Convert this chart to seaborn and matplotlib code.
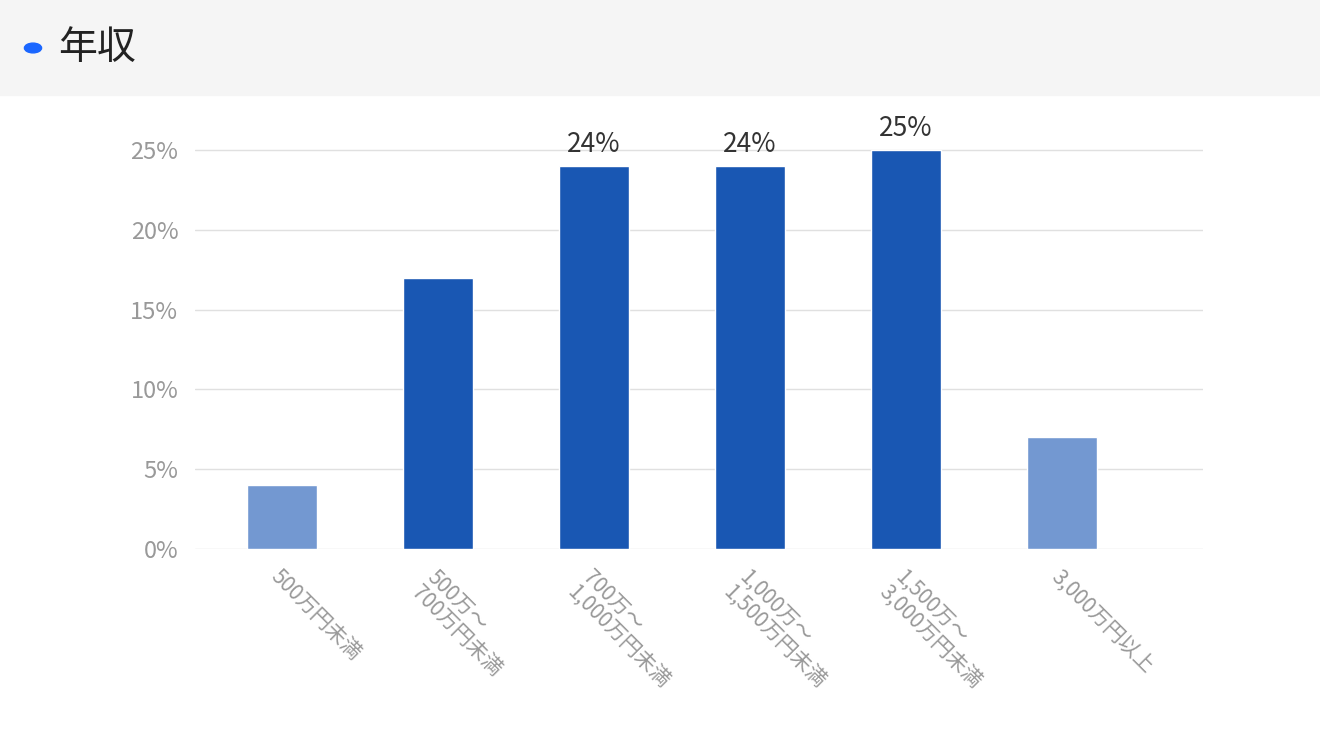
import matplotlib
matplotlib.use("Agg")
import matplotlib.pyplot as plt
import seaborn as sns
import pandas as pd
from matplotlib.patches import Rectangle

sns.set_style("white")
plt.rcParams['font.family'] = ['Noto Sans CJK JP', 'DejaVu Sans']

# data
categories = ["500万円未満", "500万〜\n700万円未満", "700万〜\n1,000万円未満",
              "1,000万〜\n1,500万円未満", "1,500万〜\n3,000万円未満", "3,000万円以上"]
values = [4, 17, 24, 24, 25, 7]
highlight = [False, True, True, True, True, False]
labeled = [False, False, True, True, True, False]
yticks = [0, 5, 10, 15, 20, 25]

df = pd.DataFrame({"cat": categories, "val": values})
colors = ["#0052cc" if h else "#6495e0" for h in highlight]

fig = plt.figure(figsize=(13.2, 7.5), dpi=100)
fig.patches.append(Rectangle((0, 1 - 95 / 750), 1, 95 / 750, transform=fig.transFigure,
                             color="#f5f5f5", zorder=0))
fig.patches.append(matplotlib.patches.Circle((33 / 1320, 1 - 48 / 750), 0.0065,
                                             transform=fig.transFigure, color="#1a66ff"))
fig.text(58 / 1320, 1 - 48 / 750, "年収", fontsize=28, va="center", color="#222222")

ax = fig.add_axes([195 / 1320, 1 - 549 / 750, 1008 / 1320, 439 / 750])
sns.barplot(data=df, x="cat", y="val", hue="cat", palette=colors, legend=False,
            width=0.45, ax=ax, zorder=3)
ax.set_xlim(-0.558, 5.904)
ax.set_ylim(0, 27.5)
ax.set_yticks(yticks)
ax.set_yticklabels([f"{t}%" for t in yticks], fontsize=17, color="#999999")
ax.yaxis.grid(True, color="#e0e0e0", linewidth=1, zorder=0)
for s in ax.spines.values():
    s.set_visible(False)
ax.tick_params(axis="both", length=0, pad=12)
ax.set_xlabel("")
ax.set_ylabel("")
ax.set_xticks(range(len(categories)))
ax.set_xticklabels(categories, rotation=-45, ha="left", va="top", rotation_mode="anchor",
                   fontsize=15, color="#999999", linespacing=1.0)
for lbl in ax.get_xticklabels():
    lbl.set_x(lbl.get_position()[0])
for i, (v, l) in enumerate(zip(values, labeled)):
    if l:
        ax.text(i, v + 0.5, f"{v}%", ha="center", va="bottom", fontsize=19, color="#333333")

fig.savefig("out.png", dpi=100)
